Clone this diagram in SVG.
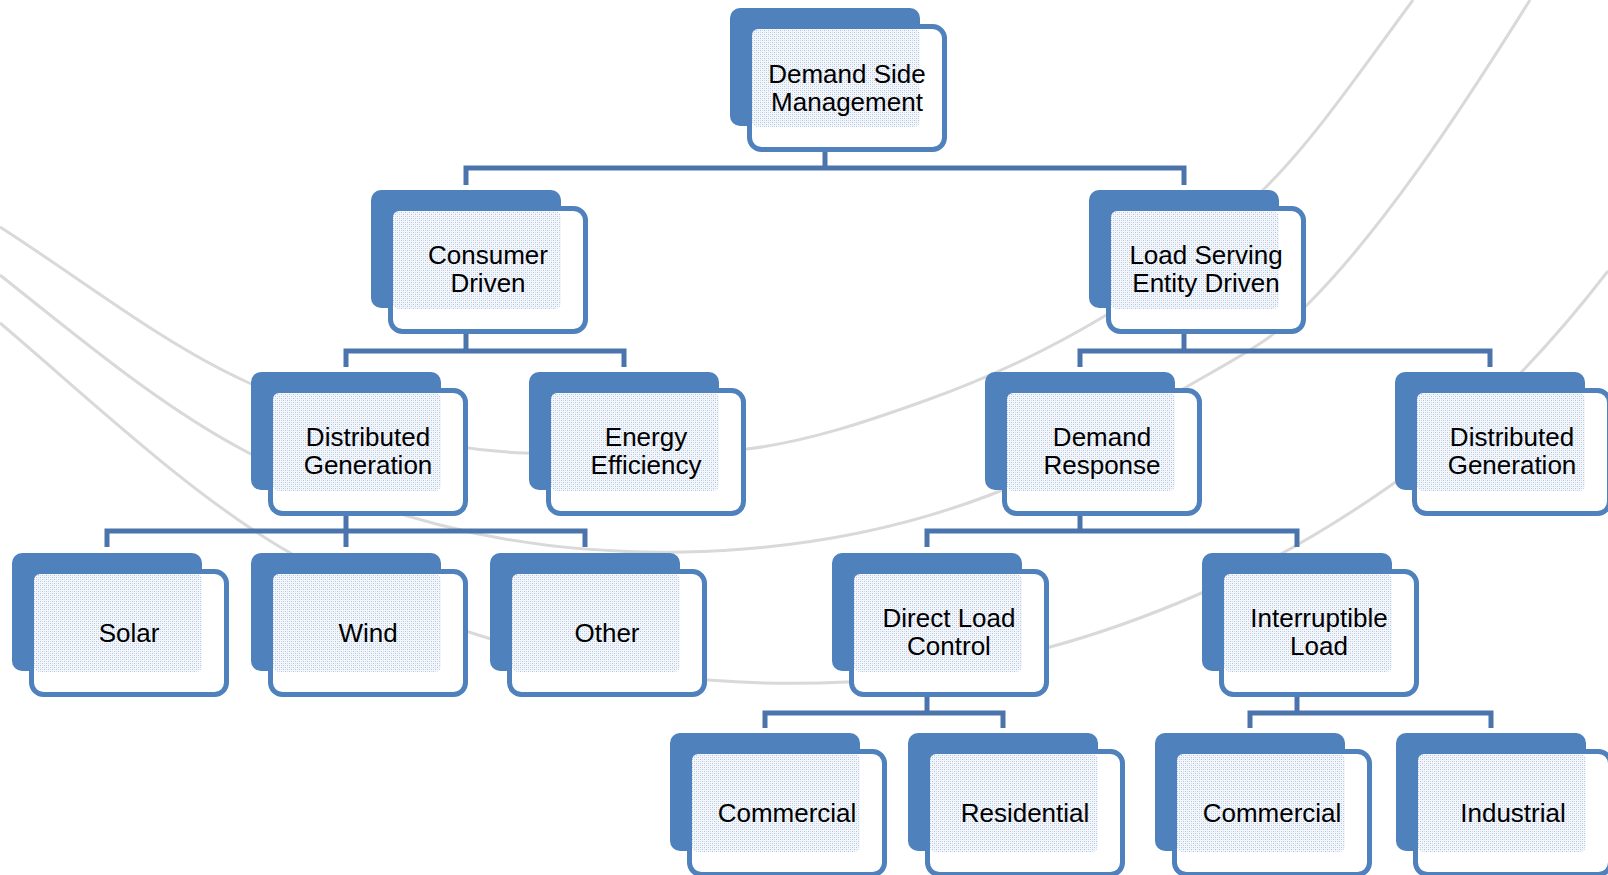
<svg xmlns="http://www.w3.org/2000/svg" width="1608" height="875" viewBox="0 0 1608 875">
<style>
.arc{fill:none;stroke:#d9d9d9;stroke-width:3}
.con{fill:none;stroke:#4a74ab;stroke-width:5;stroke-linejoin:miter}
.back{fill:#4f81bd}
.front{fill:#ffffff;stroke:#4f81bd;stroke-width:5}
.tex{fill:url(#dots)}
.lbl{font-family:"Liberation Sans",Arial,sans-serif;font-size:26px;fill:#000;text-anchor:middle}
</style>
<defs>
<pattern id="dots" width="4" height="4" patternUnits="userSpaceOnUse">
<rect width="4" height="4" fill="#f3f6fb"/>
<rect x="0" y="0" width="1" height="1" fill="#b2c5e0"/>
<rect x="2" y="2" width="1" height="1" fill="#b2c5e0"/>
<rect x="2" y="0" width="1" height="1" fill="#d5dfee"/>
<rect x="0" y="2" width="1" height="1" fill="#d5dfee"/>
</pattern>
</defs>
<rect width="1608" height="875" fill="#ffffff"/>
<g id="background-arcs">
<path class="arc" d="M0,227 C82.3,279.7 164.7,345 247,382 C339.3,423.5 431.7,449.3 524,453 C598.3,456 672.7,457.9 747,449 C807,441.8 867,421.6 927,400 C985.7,378.9 1044.3,352.2 1103,317 C1157.7,284.2 1212.3,240.7 1267,186 C1315.7,137.3 1364.3,65.7 1413,0"/>
<path class="arc" d="M0,275 C82.3,340.8 164.7,409.2 247,452 C311.3,485.4 375.7,508.3 440,525 C521,546.1 602,553.6 683,552 C785.3,550 887.7,533.9 990,495 C1054.3,470.6 1118.7,428.9 1183,389 C1224.3,364.2 1265.7,346.3 1307,305 C1381.3,230.7 1455.7,118.9 1530,0"/>
<path class="arc" d="M0,323 C93.3,402.3 186.7,491 280,547 C345,586 410,613.2 475,634 C552.7,658.9 630.3,673.8 708,680 C754.3,683.7 800.7,684.3 847,682 C914.7,678.6 982.3,665.3 1050,647 C1099,633.8 1148,616.1 1197,595 C1261.3,567.4 1325.7,531 1390,486 C1462.7,435.1 1535.3,365.5 1608,271"/>
</g>
<g id="connectors">
<path class="con" d="M825,140 V168"/>
<path class="con" d="M466,185 V168 H1184 V185"/>
<path class="con" d="M466,320 V351"/>
<path class="con" d="M346,367 V351 H624 V367"/>
<path class="con" d="M1184,320 V351"/>
<path class="con" d="M1080,367 V351 H1490 V367"/>
<path class="con" d="M346,500 V531"/>
<path class="con" d="M107,547 V531 H585 V547"/>
<path class="con" d="M346,531 V547"/>
<path class="con" d="M1080,500 V531"/>
<path class="con" d="M927,547 V531 H1297 V547"/>
<path class="con" d="M927,680 V713"/>
<path class="con" d="M765,728 V713 H1003 V728"/>
<path class="con" d="M1297,680 V713"/>
<path class="con" d="M1250,728 V713 H1491 V728"/>
</g>
<g id="n-dsm" transform="translate(730,8)">
<rect class="back" width="190" height="118" rx="10"/><rect class="front" x="19.5" y="18.5" width="195" height="123" rx="12"/><rect class="tex" x="22" y="21" width="168" height="98" rx="6"/>
<text class="lbl" x="117" y="75">Demand Side</text><text class="lbl" x="117" y="103">Management</text>
</g>
<g id="n-consumer" transform="translate(371,190)">
<rect class="back" width="190" height="118" rx="10"/><rect class="front" x="19.5" y="18.5" width="195" height="123" rx="12"/><rect class="tex" x="22" y="21" width="168" height="98" rx="6"/>
<text class="lbl" x="117" y="74">Consumer</text><text class="lbl" x="117" y="102">Driven</text>
</g>
<g id="n-lse" transform="translate(1089,190)">
<rect class="back" width="190" height="118" rx="10"/><rect class="front" x="19.5" y="18.5" width="195" height="123" rx="12"/><rect class="tex" x="22" y="21" width="168" height="98" rx="6"/>
<text class="lbl" x="117" y="74">Load Serving</text><text class="lbl" x="117" y="102">Entity Driven</text>
</g>
<g id="n-dg1" transform="translate(251,372)">
<rect class="back" width="190" height="118" rx="10"/><rect class="front" x="19.5" y="18.5" width="195" height="123" rx="12"/><rect class="tex" x="22" y="21" width="168" height="98" rx="6"/>
<text class="lbl" x="117" y="74">Distributed</text><text class="lbl" x="117" y="102">Generation</text>
</g>
<g id="n-ee" transform="translate(529,372)">
<rect class="back" width="190" height="118" rx="10"/><rect class="front" x="19.5" y="18.5" width="195" height="123" rx="12"/><rect class="tex" x="22" y="21" width="168" height="98" rx="6"/>
<text class="lbl" x="117" y="74">Energy</text><text class="lbl" x="117" y="102">Efficiency</text>
</g>
<g id="n-dr" transform="translate(985,372)">
<rect class="back" width="190" height="118" rx="10"/><rect class="front" x="19.5" y="18.5" width="195" height="123" rx="12"/><rect class="tex" x="22" y="21" width="168" height="98" rx="6"/>
<text class="lbl" x="117" y="74">Demand</text><text class="lbl" x="117" y="102">Response</text>
</g>
<g id="n-dg2" transform="translate(1395,372)">
<rect class="back" width="190" height="118" rx="10"/><rect class="front" x="19.5" y="18.5" width="195" height="123" rx="12"/><rect class="tex" x="22" y="21" width="168" height="98" rx="6"/>
<text class="lbl" x="117" y="74">Distributed</text><text class="lbl" x="117" y="102">Generation</text>
</g>
<g id="n-solar" transform="translate(12,553)">
<rect class="back" width="190" height="118" rx="10"/><rect class="front" x="19.5" y="18.5" width="195" height="123" rx="12"/><rect class="tex" x="22" y="21" width="168" height="98" rx="6"/>
<text class="lbl" x="117" y="89">Solar</text>
</g>
<g id="n-wind" transform="translate(251,553)">
<rect class="back" width="190" height="118" rx="10"/><rect class="front" x="19.5" y="18.5" width="195" height="123" rx="12"/><rect class="tex" x="22" y="21" width="168" height="98" rx="6"/>
<text class="lbl" x="117" y="89">Wind</text>
</g>
<g id="n-other" transform="translate(490,553)">
<rect class="back" width="190" height="118" rx="10"/><rect class="front" x="19.5" y="18.5" width="195" height="123" rx="12"/><rect class="tex" x="22" y="21" width="168" height="98" rx="6"/>
<text class="lbl" x="117" y="89">Other</text>
</g>
<g id="n-dlc" transform="translate(832,553)">
<rect class="back" width="190" height="118" rx="10"/><rect class="front" x="19.5" y="18.5" width="195" height="123" rx="12"/><rect class="tex" x="22" y="21" width="168" height="98" rx="6"/>
<text class="lbl" x="117" y="74">Direct Load</text><text class="lbl" x="117" y="102">Control</text>
</g>
<g id="n-il" transform="translate(1202,553)">
<rect class="back" width="190" height="118" rx="10"/><rect class="front" x="19.5" y="18.5" width="195" height="123" rx="12"/><rect class="tex" x="22" y="21" width="168" height="98" rx="6"/>
<text class="lbl" x="117" y="74">Interruptible</text><text class="lbl" x="117" y="102">Load</text>
</g>
<g id="n-com1" transform="translate(670,733)">
<rect class="back" width="190" height="118" rx="10"/><rect class="front" x="19.5" y="18.5" width="195" height="123" rx="12"/><rect class="tex" x="22" y="21" width="168" height="98" rx="6"/>
<text class="lbl" x="117" y="89">Commercial</text>
</g>
<g id="n-res" transform="translate(908,733)">
<rect class="back" width="190" height="118" rx="10"/><rect class="front" x="19.5" y="18.5" width="195" height="123" rx="12"/><rect class="tex" x="22" y="21" width="168" height="98" rx="6"/>
<text class="lbl" x="117" y="89">Residential</text>
</g>
<g id="n-com2" transform="translate(1155,733)">
<rect class="back" width="190" height="118" rx="10"/><rect class="front" x="19.5" y="18.5" width="195" height="123" rx="12"/><rect class="tex" x="22" y="21" width="168" height="98" rx="6"/>
<text class="lbl" x="117" y="89">Commercial</text>
</g>
<g id="n-ind" transform="translate(1396,733)">
<rect class="back" width="190" height="118" rx="10"/><rect class="front" x="19.5" y="18.5" width="195" height="123" rx="12"/><rect class="tex" x="22" y="21" width="168" height="98" rx="6"/>
<text class="lbl" x="117" y="89">Industrial</text>
</g>
</svg>
